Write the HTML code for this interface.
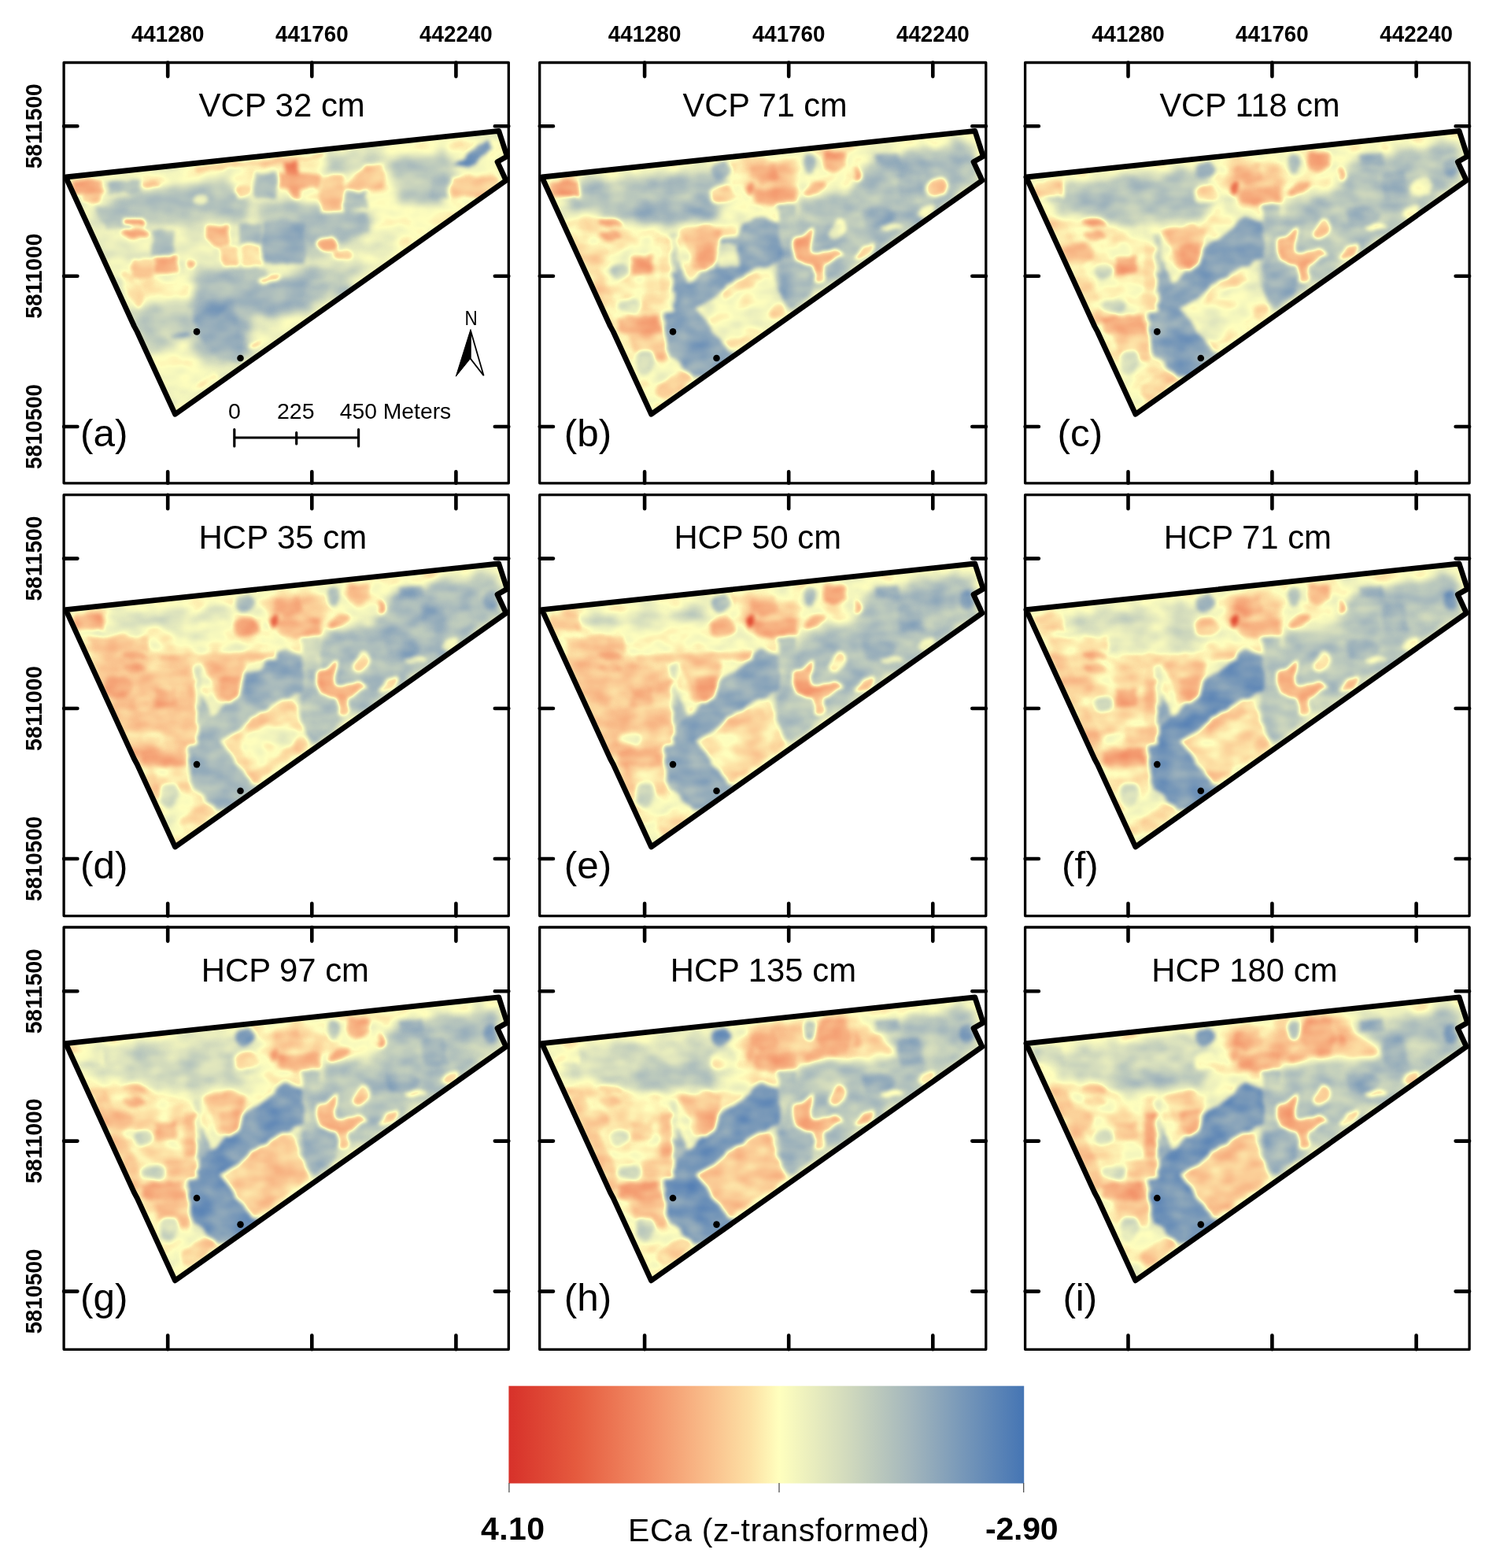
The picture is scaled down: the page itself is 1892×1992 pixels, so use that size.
<!DOCTYPE html>
<html lang="en"><head><meta charset="utf-8"><title>ECa maps</title>
<style>html,body{margin:0;padding:0;background:#fff}svg{display:block}text{font-family:"Liberation Sans",Arial,sans-serif;fill:#000}.b{font-weight:bold}</style>
</head><body>
<svg width="1892" height="1992" viewBox="0 0 1892 1992">
<defs>
<linearGradient id="cb" x1="0" x2="1" y1="0" y2="0"><stop offset="0" stop-color="#d7312a"/><stop offset="0.13" stop-color="#e55a3e"/><stop offset="0.27" stop-color="#f28e66"/><stop offset="0.4" stop-color="#fac38f"/><stop offset="0.47" stop-color="#fde1a5"/><stop offset="0.525" stop-color="#ffffbe"/><stop offset="0.65" stop-color="#d4dcbd"/><stop offset="0.78" stop-color="#a3b6bc"/><stop offset="0.9" stop-color="#6f92b8"/><stop offset="1" stop-color="#4575b4"/></linearGradient>
<clipPath id="fc"><path d="M83.6,225.0 L633.8,166.3 L644.3,198.6 L632.0,205.6 L643.0,229.2 L222.5,526.2 L174.3,421.5 L170.5,414.5Z"/></clipPath>
<filter id="f0" filterUnits="userSpaceOnUse" x="60" y="140" width="610" height="410" color-interpolation-filters="sRGB"><feTurbulence type="fractalNoise" baseFrequency="0.03" numOctaves="2" seed="3" result="n"/><feDisplacementMap in="SourceGraphic" in2="n" scale="24" xChannelSelector="R" yChannelSelector="G"/><feGaussianBlur stdDeviation="5.5"/></filter><filter id="f1" filterUnits="userSpaceOnUse" x="60" y="140" width="610" height="410" color-interpolation-filters="sRGB"><feTurbulence type="fractalNoise" baseFrequency="0.055" numOctaves="2" seed="7" result="n"/><feDisplacementMap in="SourceGraphic" in2="n" scale="9" xChannelSelector="R" yChannelSelector="G"/><feGaussianBlur stdDeviation="2.4"/></filter><filter id="cm0" filterUnits="userSpaceOnUse" x="70" y="150" width="590" height="390" color-interpolation-filters="sRGB"><feTurbulence type="fractalNoise" baseFrequency="0.03 0.045" numOctaves="2" seed="11"/><feColorMatrix type="matrix" values="1 0 0 0 0  1 0 0 0 0  1 0 0 0 0  0 0 0 0 1" result="n"/><feComposite in="SourceGraphic" in2="n" operator="arithmetic" k1="0" k2="1" k3="0.17" k4="-0.085"/><feComponentTransfer><feFuncR type="table" tableValues="0.843 0.854 0.864 0.875 0.885 0.896 0.905 0.914 0.924 0.933 0.942 0.950 0.956 0.962 0.968 0.974 0.980 0.985 0.989 0.993 0.996 1.000 0.966 0.933 0.899 0.865 0.831 0.794 0.757 0.721 0.684 0.647 0.605 0.563 0.520 0.478 0.435 0.394 0.353 0.312 0.271"/><feFuncG type="table" tableValues="0.192 0.223 0.254 0.285 0.316 0.347 0.382 0.418 0.455 0.491 0.528 0.565 0.605 0.645 0.685 0.725 0.765 0.807 0.849 0.893 0.947 1.000 0.973 0.945 0.918 0.890 0.863 0.834 0.805 0.777 0.748 0.719 0.690 0.661 0.631 0.602 0.573 0.544 0.516 0.487 0.459"/><feFuncB type="table" tableValues="0.165 0.180 0.195 0.210 0.225 0.240 0.266 0.294 0.322 0.350 0.378 0.406 0.437 0.468 0.499 0.530 0.561 0.592 0.622 0.656 0.701 0.745 0.744 0.744 0.743 0.742 0.741 0.740 0.740 0.739 0.738 0.737 0.735 0.731 0.728 0.725 0.722 0.718 0.714 0.710 0.706"/></feComponentTransfer></filter><filter id="cm1" filterUnits="userSpaceOnUse" x="70" y="150" width="590" height="390" color-interpolation-filters="sRGB"><feTurbulence type="fractalNoise" baseFrequency="0.03 0.045" numOctaves="2" seed="16"/><feColorMatrix type="matrix" values="1 0 0 0 0  1 0 0 0 0  1 0 0 0 0  0 0 0 0 1" result="n"/><feComposite in="SourceGraphic" in2="n" operator="arithmetic" k1="0" k2="1" k3="0.22" k4="-0.110"/><feComponentTransfer><feFuncR type="table" tableValues="0.843 0.854 0.864 0.875 0.885 0.896 0.905 0.914 0.924 0.933 0.942 0.950 0.956 0.962 0.968 0.974 0.980 0.985 0.989 0.993 0.996 1.000 0.966 0.933 0.899 0.865 0.831 0.794 0.757 0.721 0.684 0.647 0.605 0.563 0.520 0.478 0.435 0.394 0.353 0.312 0.271"/><feFuncG type="table" tableValues="0.192 0.223 0.254 0.285 0.316 0.347 0.382 0.418 0.455 0.491 0.528 0.565 0.605 0.645 0.685 0.725 0.765 0.807 0.849 0.893 0.947 1.000 0.973 0.945 0.918 0.890 0.863 0.834 0.805 0.777 0.748 0.719 0.690 0.661 0.631 0.602 0.573 0.544 0.516 0.487 0.459"/><feFuncB type="table" tableValues="0.165 0.180 0.195 0.210 0.225 0.240 0.266 0.294 0.322 0.350 0.378 0.406 0.437 0.468 0.499 0.530 0.561 0.592 0.622 0.656 0.701 0.745 0.744 0.744 0.743 0.742 0.741 0.740 0.740 0.739 0.738 0.737 0.735 0.731 0.728 0.725 0.722 0.718 0.714 0.710 0.706"/></feComponentTransfer></filter><filter id="cm2" filterUnits="userSpaceOnUse" x="70" y="150" width="590" height="390" color-interpolation-filters="sRGB"><feTurbulence type="fractalNoise" baseFrequency="0.03 0.045" numOctaves="2" seed="21"/><feColorMatrix type="matrix" values="1 0 0 0 0  1 0 0 0 0  1 0 0 0 0  0 0 0 0 1" result="n"/><feComposite in="SourceGraphic" in2="n" operator="arithmetic" k1="0" k2="1" k3="0.22" k4="-0.110"/><feComponentTransfer><feFuncR type="table" tableValues="0.843 0.854 0.864 0.875 0.885 0.896 0.905 0.914 0.924 0.933 0.942 0.950 0.956 0.962 0.968 0.974 0.980 0.985 0.989 0.993 0.996 1.000 0.966 0.933 0.899 0.865 0.831 0.794 0.757 0.721 0.684 0.647 0.605 0.563 0.520 0.478 0.435 0.394 0.353 0.312 0.271"/><feFuncG type="table" tableValues="0.192 0.223 0.254 0.285 0.316 0.347 0.382 0.418 0.455 0.491 0.528 0.565 0.605 0.645 0.685 0.725 0.765 0.807 0.849 0.893 0.947 1.000 0.973 0.945 0.918 0.890 0.863 0.834 0.805 0.777 0.748 0.719 0.690 0.661 0.631 0.602 0.573 0.544 0.516 0.487 0.459"/><feFuncB type="table" tableValues="0.165 0.180 0.195 0.210 0.225 0.240 0.266 0.294 0.322 0.350 0.378 0.406 0.437 0.468 0.499 0.530 0.561 0.592 0.622 0.656 0.701 0.745 0.744 0.744 0.743 0.742 0.741 0.740 0.740 0.739 0.738 0.737 0.735 0.731 0.728 0.725 0.722 0.718 0.714 0.710 0.706"/></feComponentTransfer></filter><filter id="cm3" filterUnits="userSpaceOnUse" x="70" y="150" width="590" height="390" color-interpolation-filters="sRGB"><feTurbulence type="fractalNoise" baseFrequency="0.03 0.045" numOctaves="2" seed="26"/><feColorMatrix type="matrix" values="1 0 0 0 0  1 0 0 0 0  1 0 0 0 0  0 0 0 0 1" result="n"/><feComposite in="SourceGraphic" in2="n" operator="arithmetic" k1="0" k2="1" k3="0.22" k4="-0.110"/><feComponentTransfer><feFuncR type="table" tableValues="0.843 0.854 0.864 0.875 0.885 0.896 0.905 0.914 0.924 0.933 0.942 0.950 0.956 0.962 0.968 0.974 0.980 0.985 0.989 0.993 0.996 1.000 0.966 0.933 0.899 0.865 0.831 0.794 0.757 0.721 0.684 0.647 0.605 0.563 0.520 0.478 0.435 0.394 0.353 0.312 0.271"/><feFuncG type="table" tableValues="0.192 0.223 0.254 0.285 0.316 0.347 0.382 0.418 0.455 0.491 0.528 0.565 0.605 0.645 0.685 0.725 0.765 0.807 0.849 0.893 0.947 1.000 0.973 0.945 0.918 0.890 0.863 0.834 0.805 0.777 0.748 0.719 0.690 0.661 0.631 0.602 0.573 0.544 0.516 0.487 0.459"/><feFuncB type="table" tableValues="0.165 0.180 0.195 0.210 0.225 0.240 0.266 0.294 0.322 0.350 0.378 0.406 0.437 0.468 0.499 0.530 0.561 0.592 0.622 0.656 0.701 0.745 0.744 0.744 0.743 0.742 0.741 0.740 0.740 0.739 0.738 0.737 0.735 0.731 0.728 0.725 0.722 0.718 0.714 0.710 0.706"/></feComponentTransfer></filter><filter id="cm4" filterUnits="userSpaceOnUse" x="70" y="150" width="590" height="390" color-interpolation-filters="sRGB"><feTurbulence type="fractalNoise" baseFrequency="0.03 0.045" numOctaves="2" seed="31"/><feColorMatrix type="matrix" values="1 0 0 0 0  1 0 0 0 0  1 0 0 0 0  0 0 0 0 1" result="n"/><feComposite in="SourceGraphic" in2="n" operator="arithmetic" k1="0" k2="1" k3="0.22" k4="-0.110"/><feComponentTransfer><feFuncR type="table" tableValues="0.843 0.854 0.864 0.875 0.885 0.896 0.905 0.914 0.924 0.933 0.942 0.950 0.956 0.962 0.968 0.974 0.980 0.985 0.989 0.993 0.996 1.000 0.966 0.933 0.899 0.865 0.831 0.794 0.757 0.721 0.684 0.647 0.605 0.563 0.520 0.478 0.435 0.394 0.353 0.312 0.271"/><feFuncG type="table" tableValues="0.192 0.223 0.254 0.285 0.316 0.347 0.382 0.418 0.455 0.491 0.528 0.565 0.605 0.645 0.685 0.725 0.765 0.807 0.849 0.893 0.947 1.000 0.973 0.945 0.918 0.890 0.863 0.834 0.805 0.777 0.748 0.719 0.690 0.661 0.631 0.602 0.573 0.544 0.516 0.487 0.459"/><feFuncB type="table" tableValues="0.165 0.180 0.195 0.210 0.225 0.240 0.266 0.294 0.322 0.350 0.378 0.406 0.437 0.468 0.499 0.530 0.561 0.592 0.622 0.656 0.701 0.745 0.744 0.744 0.743 0.742 0.741 0.740 0.740 0.739 0.738 0.737 0.735 0.731 0.728 0.725 0.722 0.718 0.714 0.710 0.706"/></feComponentTransfer></filter><filter id="cm5" filterUnits="userSpaceOnUse" x="70" y="150" width="590" height="390" color-interpolation-filters="sRGB"><feTurbulence type="fractalNoise" baseFrequency="0.03 0.045" numOctaves="2" seed="36"/><feColorMatrix type="matrix" values="1 0 0 0 0  1 0 0 0 0  1 0 0 0 0  0 0 0 0 1" result="n"/><feComposite in="SourceGraphic" in2="n" operator="arithmetic" k1="0" k2="1" k3="0.22" k4="-0.110"/><feComponentTransfer><feFuncR type="table" tableValues="0.843 0.854 0.864 0.875 0.885 0.896 0.905 0.914 0.924 0.933 0.942 0.950 0.956 0.962 0.968 0.974 0.980 0.985 0.989 0.993 0.996 1.000 0.966 0.933 0.899 0.865 0.831 0.794 0.757 0.721 0.684 0.647 0.605 0.563 0.520 0.478 0.435 0.394 0.353 0.312 0.271"/><feFuncG type="table" tableValues="0.192 0.223 0.254 0.285 0.316 0.347 0.382 0.418 0.455 0.491 0.528 0.565 0.605 0.645 0.685 0.725 0.765 0.807 0.849 0.893 0.947 1.000 0.973 0.945 0.918 0.890 0.863 0.834 0.805 0.777 0.748 0.719 0.690 0.661 0.631 0.602 0.573 0.544 0.516 0.487 0.459"/><feFuncB type="table" tableValues="0.165 0.180 0.195 0.210 0.225 0.240 0.266 0.294 0.322 0.350 0.378 0.406 0.437 0.468 0.499 0.530 0.561 0.592 0.622 0.656 0.701 0.745 0.744 0.744 0.743 0.742 0.741 0.740 0.740 0.739 0.738 0.737 0.735 0.731 0.728 0.725 0.722 0.718 0.714 0.710 0.706"/></feComponentTransfer></filter><filter id="cm6" filterUnits="userSpaceOnUse" x="70" y="150" width="590" height="390" color-interpolation-filters="sRGB"><feTurbulence type="fractalNoise" baseFrequency="0.03 0.045" numOctaves="2" seed="41"/><feColorMatrix type="matrix" values="1 0 0 0 0  1 0 0 0 0  1 0 0 0 0  0 0 0 0 1" result="n"/><feComposite in="SourceGraphic" in2="n" operator="arithmetic" k1="0" k2="1" k3="0.22" k4="-0.110"/><feComponentTransfer><feFuncR type="table" tableValues="0.843 0.854 0.864 0.875 0.885 0.896 0.905 0.914 0.924 0.933 0.942 0.950 0.956 0.962 0.968 0.974 0.980 0.985 0.989 0.993 0.996 1.000 0.966 0.933 0.899 0.865 0.831 0.794 0.757 0.721 0.684 0.647 0.605 0.563 0.520 0.478 0.435 0.394 0.353 0.312 0.271"/><feFuncG type="table" tableValues="0.192 0.223 0.254 0.285 0.316 0.347 0.382 0.418 0.455 0.491 0.528 0.565 0.605 0.645 0.685 0.725 0.765 0.807 0.849 0.893 0.947 1.000 0.973 0.945 0.918 0.890 0.863 0.834 0.805 0.777 0.748 0.719 0.690 0.661 0.631 0.602 0.573 0.544 0.516 0.487 0.459"/><feFuncB type="table" tableValues="0.165 0.180 0.195 0.210 0.225 0.240 0.266 0.294 0.322 0.350 0.378 0.406 0.437 0.468 0.499 0.530 0.561 0.592 0.622 0.656 0.701 0.745 0.744 0.744 0.743 0.742 0.741 0.740 0.740 0.739 0.738 0.737 0.735 0.731 0.728 0.725 0.722 0.718 0.714 0.710 0.706"/></feComponentTransfer></filter><filter id="cm7" filterUnits="userSpaceOnUse" x="70" y="150" width="590" height="390" color-interpolation-filters="sRGB"><feTurbulence type="fractalNoise" baseFrequency="0.03 0.045" numOctaves="2" seed="46"/><feColorMatrix type="matrix" values="1 0 0 0 0  1 0 0 0 0  1 0 0 0 0  0 0 0 0 1" result="n"/><feComposite in="SourceGraphic" in2="n" operator="arithmetic" k1="0" k2="1" k3="0.22" k4="-0.110"/><feComponentTransfer><feFuncR type="table" tableValues="0.843 0.854 0.864 0.875 0.885 0.896 0.905 0.914 0.924 0.933 0.942 0.950 0.956 0.962 0.968 0.974 0.980 0.985 0.989 0.993 0.996 1.000 0.966 0.933 0.899 0.865 0.831 0.794 0.757 0.721 0.684 0.647 0.605 0.563 0.520 0.478 0.435 0.394 0.353 0.312 0.271"/><feFuncG type="table" tableValues="0.192 0.223 0.254 0.285 0.316 0.347 0.382 0.418 0.455 0.491 0.528 0.565 0.605 0.645 0.685 0.725 0.765 0.807 0.849 0.893 0.947 1.000 0.973 0.945 0.918 0.890 0.863 0.834 0.805 0.777 0.748 0.719 0.690 0.661 0.631 0.602 0.573 0.544 0.516 0.487 0.459"/><feFuncB type="table" tableValues="0.165 0.180 0.195 0.210 0.225 0.240 0.266 0.294 0.322 0.350 0.378 0.406 0.437 0.468 0.499 0.530 0.561 0.592 0.622 0.656 0.701 0.745 0.744 0.744 0.743 0.742 0.741 0.740 0.740 0.739 0.738 0.737 0.735 0.731 0.728 0.725 0.722 0.718 0.714 0.710 0.706"/></feComponentTransfer></filter><filter id="cm8" filterUnits="userSpaceOnUse" x="70" y="150" width="590" height="390" color-interpolation-filters="sRGB"><feTurbulence type="fractalNoise" baseFrequency="0.03 0.045" numOctaves="2" seed="51"/><feColorMatrix type="matrix" values="1 0 0 0 0  1 0 0 0 0  1 0 0 0 0  0 0 0 0 1" result="n"/><feComposite in="SourceGraphic" in2="n" operator="arithmetic" k1="0" k2="1" k3="0.22" k4="-0.110"/><feComponentTransfer><feFuncR type="table" tableValues="0.843 0.854 0.864 0.875 0.885 0.896 0.905 0.914 0.924 0.933 0.942 0.950 0.956 0.962 0.968 0.974 0.980 0.985 0.989 0.993 0.996 1.000 0.966 0.933 0.899 0.865 0.831 0.794 0.757 0.721 0.684 0.647 0.605 0.563 0.520 0.478 0.435 0.394 0.353 0.312 0.271"/><feFuncG type="table" tableValues="0.192 0.223 0.254 0.285 0.316 0.347 0.382 0.418 0.455 0.491 0.528 0.565 0.605 0.645 0.685 0.725 0.765 0.807 0.849 0.893 0.947 1.000 0.973 0.945 0.918 0.890 0.863 0.834 0.805 0.777 0.748 0.719 0.690 0.661 0.631 0.602 0.573 0.544 0.516 0.487 0.459"/><feFuncB type="table" tableValues="0.165 0.180 0.195 0.210 0.225 0.240 0.266 0.294 0.322 0.350 0.378 0.406 0.437 0.468 0.499 0.530 0.561 0.592 0.622 0.656 0.701 0.745 0.744 0.744 0.743 0.742 0.741 0.740 0.740 0.739 0.738 0.737 0.735 0.731 0.728 0.725 0.722 0.718 0.714 0.710 0.706"/></feComponentTransfer></filter>
</defs>
<rect width="1892" height="1992" fill="#fff"/>
<g transform="translate(0.0,0.0)">
<g clip-path="url(#fc)"><g filter="url(#cm0)"><rect x="60" y="140" width="610" height="410" fill="#959595"/><g filter="url(#f0)"><polygon points="87,226 633,169 639,232 534,305 443,287 353,257 172,260" fill="#888888"/><polygon points="167,244 292,229 319,260 317,280 172,284 120,281 123,263" fill="#bbbbbb"/><polygon points="331,260 401,254 467,269 467,296 392,329 334,332" fill="#bdbdbd"/><polygon points="413,196 482,193 485,208 458,220 416,220" fill="#adadad"/><polygon points="494,202 570,193 576,226 564,257 503,254" fill="#b5b5b5"/><polygon points="244,347 310,341 353,353 413,338 479,341 458,371 398,398 322,401 310,462 262,462 244,419 238,389" fill="#c4c4c4"/><polygon points="156,389 238,377 268,462 223,516 196,462" fill="#b0b0b0"/><polygon points="181,450 238,432 274,480 223,522" fill="#888888"/><ellipse cx="503" cy="329" rx="66" ry="18" fill="#888888" transform="rotate(-30 503 329)"/><ellipse cx="398" cy="401" rx="36" ry="12" fill="#888888" transform="rotate(-25 398 401)"/><ellipse cx="202" cy="368" rx="42" ry="21" fill="#838383"/><ellipse cx="419" cy="365" rx="36" ry="15" fill="#b2b2b2" transform="rotate(-30 419 365)"/></g><g filter="url(#f1)"><rect x="137" y="229" width="42" height="18" fill="#bababa"/><polygon points="120,262 166,262 166,291 135,291" fill="#b8b8b8"/><rect x="193" y="292" width="29" height="32" fill="#bfbfbf"/><rect x="303" y="284" width="29" height="26" fill="#bfbfbf"/><rect x="334" y="281" width="53" height="53" fill="#cccccc"/><rect x="324" y="219" width="27" height="33" fill="#bdbdbd"/><rect x="437" y="241" width="30" height="24" fill="#bdbdbd"/><rect x="410" y="272" width="57" height="24" fill="#bdbdbd"/><rect x="547" y="220" width="21" height="30" fill="#bdbdbd"/><rect x="310" y="341" width="27" height="18" fill="#bdbdbd"/><polygon points="576,210 621,177 627,187 594,213" fill="#e6e6e6"/><polygon points="244,392 268,383 292,377 310,432 304,462 268,450 253,426" fill="#cccccc"/><ellipse cx="268" cy="398" rx="24" ry="8" fill="#d9d9d9" transform="rotate(-25 268 398)"/><ellipse cx="229" cy="425" rx="12" ry="3" fill="#dbdbdb"/><ellipse cx="401" cy="371" rx="18" ry="9" fill="#bdbdbd" transform="rotate(-30 401 371)"/><rect x="92" y="229" width="39" height="18" fill="#595959"/><rect x="104" y="247" width="23" height="10" fill="#6b6b6b"/><rect x="158" y="279" width="24" height="8" fill="#454545"/><ellipse cx="173" cy="296" rx="17" ry="6" fill="#595959"/><rect x="196" y="326" width="29" height="22" fill="#595959"/><rect x="167" y="328" width="28" height="24" fill="#6b6b6b"/><polygon points="260,288 290,286 292,311 274,315 262,305" fill="#595959"/><polygon points="278,314 304,314 304,338 283,336" fill="#6b6b6b"/><ellipse cx="244" cy="336" rx="6" ry="5" fill="#595959"/><rect x="307" y="311" width="26" height="26" fill="#787878"/><rect x="362" y="202" width="17" height="27" fill="#454545"/><rect x="369" y="235" width="12" height="18" fill="#595959"/><rect x="353" y="222" width="53" height="17" fill="#595959"/><rect x="408" y="222" width="29" height="48" fill="#6b6b6b"/><polygon points="437,238 464,211 488,208 488,238 458,244" fill="#6b6b6b"/><rect x="573" y="225" width="60" height="25" fill="#6b6b6b"/><ellipse cx="416" cy="311" rx="14" ry="11" fill="#595959"/><ellipse cx="437" cy="323" rx="12" ry="7" fill="#6b6b6b"/><ellipse cx="342" cy="355" rx="14" ry="5" fill="#6b6b6b" transform="rotate(-15 342 355)"/><ellipse cx="310" cy="243" rx="12" ry="8" fill="#6b6b6b"/><ellipse cx="193" cy="234" rx="13" ry="4" fill="#6b6b6b"/><polygon points="250,212 413,195 413,200 250,218" fill="#6b6b6b"/><ellipse cx="168" cy="368" rx="9" ry="26" fill="#787878" transform="rotate(-25 168 368)"/><ellipse cx="262" cy="483" rx="15" ry="5" fill="#787878" transform="rotate(-35 262 483)"/><ellipse cx="325" cy="438" rx="8" ry="3" fill="#6b6b6b" transform="rotate(-20 325 438)"/><ellipse cx="255" cy="254" rx="9" ry="7" fill="#888888"/></g></g></g>
<path d="M83.6,225.0 L633.8,166.3 L644.3,198.6 L632.0,205.6 L643.0,229.2 L222.5,526.2 L174.3,421.5 L170.5,414.5Z" fill="none" stroke="#000" stroke-width="6.8" stroke-linejoin="round"/>
<circle cx="250" cy="421.4" r="4.3"/><circle cx="305.5" cy="455" r="4.3"/>
</g>
<rect x="81.1" y="79.5" width="565.2" height="534.3" fill="none" stroke="#000" stroke-width="3.3" stroke-linejoin="round"/>
<path d="M213.2,79.5V97.1M213.2,613.8V599.2M396.3,79.5V97.1M396.3,613.8V599.2M579.4,79.5V97.1M579.4,613.8V599.2M81.1,160.3H98.4M646.3,160.3H628.8M81.1,350.7H98.4M646.3,350.7H628.8M81.1,542.0H98.4M646.3,542.0H628.8" stroke="#000" stroke-width="4.6" stroke-linecap="round" fill="none"/>
<text x="252.5" y="148.1" font-size="42.3" textLength="211.3" lengthAdjust="spacingAndGlyphs">VCP 32 cm</text>
<text x="102.1" y="566.5" font-size="47.5" textLength="60.4" lengthAdjust="spacingAndGlyphs">(a)</text>
<g transform="translate(605.0,0.0)">
<g clip-path="url(#fc)"><g filter="url(#cm1)"><rect x="60" y="140" width="610" height="410" fill="#888888"/><g filter="url(#f0)"><polygon points="99,235 292,217 310,217 322,260 310,281 250,287 172,281 126,275" fill="#b8b8b8"/><polygon points="196,254 298,247 310,278 250,284 202,278" fill="#c9c9c9"/><polygon points="108,266 172,281 244,293 250,371 238,410 238,462 268,480 223,522 172,416" fill="#828282"/><polygon points="410,269 413,251 473,247 509,196 576,190 627,175 639,205 639,232 534,305 482,341 428,371 398,392 383,371 383,329 389,296" fill="#bdbdbd"/><polygon points="343,208 383,205 410,217 413,251 383,261 353,257 343,232" fill="#6b6b6b"/><polygon points="196,450 238,438 262,471 223,522" fill="#888888"/></g><g filter="url(#f1)"><polygon points="281,394 305,373 331,352 353,339 371,335 378,353 383,371 396,394 353,426 322,445 305,429 292,410" fill="#8c8c8c"/><polygon points="310,371 331,355 356,349 365,356 337,368 316,382" fill="#787878"/><polygon points="306,430 322,433 347,426 331,441 319,442" fill="#787878"/><ellipse cx="383" cy="395" rx="12" ry="8" fill="#787878" transform="rotate(-30 383 395)"/><polygon points="384,336 413,332 431,341 427,371 401,392 386,371" fill="#c9c9c9"/><polygon points="247,349 246,360 249,369 257,374 271,363 265,353 259,341 254,329 250,329" fill="#c9c9c9"/><rect x="246" y="296" width="9" height="51" fill="#a8a8a8"/><polygon points="239,400 244,389 252,384 255,373 270,361 287,346 304,340 306,304 331,301 336,285 365,275 384,282 388,302 388,331 354,342 332,355 307,375 281,393 294,410 307,427 323,445 333,454 292,482 273,476 258,461 247,452 241,441 239,424 241,410" fill="#d1d1d1"/><rect x="307" y="311" width="26" height="27" fill="#999999"/><ellipse cx="312" cy="217" rx="12" ry="11" fill="#c9c9c9"/><ellipse cx="425" cy="207" rx="9" ry="14" fill="#b8b8b8"/><ellipse cx="623" cy="214" rx="9" ry="12" fill="#b8b8b8"/><polygon points="488,264 513,260 534,269 528,287 497,290" fill="#c9c9c9"/><polygon points="507,197 536,195 540,208 509,211" fill="#c9c9c9"/><polygon points="534,220 564,217 570,251 540,254" fill="#c9c9c9"/><polygon points="383,260 407,260 410,299 386,302" fill="#b8b8b8"/><polygon points="257,293 292,285 313,293 310,311 305,333 292,344 277,338 268,317" fill="#6b6b6b"/><polygon points="278,311 305,308 305,333 292,341 280,332" fill="#595959"/><polygon points="404,302 429,290 425,308 428,320 455,318 467,324 443,336 442,356 431,359 429,339 407,332 401,317" fill="#595959"/><polygon points="442,195 467,193 472,211 455,219 443,214" fill="#595959"/><polygon points="350,211 380,208 383,229 362,235 347,229" fill="#595959"/><polygon points="353,241 407,235 410,254 377,260 356,257" fill="#595959"/><ellipse cx="431" cy="239" rx="15" ry="5" fill="#595959" transform="rotate(-30 431 239)"/><ellipse cx="348" cy="240" rx="4" ry="7" fill="#454545"/><ellipse cx="484" cy="222" rx="5" ry="10" fill="#595959"/><ellipse cx="313" cy="247" rx="17" ry="12" fill="#787878"/><ellipse cx="170" cy="284" rx="14" ry="5" fill="#595959"/><ellipse cx="172" cy="299" rx="14" ry="6" fill="#595959"/><rect x="197" y="326" width="26" height="23" fill="#595959"/><polygon points="178,403 232,400 238,422 202,430 181,421" fill="#595959"/><polygon points="193,422 238,422 241,459 211,462 199,444" fill="#6b6b6b"/><polygon points="209,376 244,371 251,395 214,395" fill="#787878"/><polygon points="233,312 249,312 250,368 235,368" fill="#787878"/><polygon points="114,281 132,281 181,398 172,416" fill="#787878"/><ellipse cx="150" cy="323" rx="18" ry="15" fill="#787878"/><ellipse cx="494" cy="320" rx="15" ry="6" fill="#6b6b6b" transform="rotate(-38 494 320)"/><ellipse cx="437" cy="349" rx="5" ry="10" fill="#6b6b6b"/><ellipse cx="460" cy="291" rx="9" ry="14" fill="#888888" transform="rotate(25 460 291)"/><ellipse cx="528" cy="288" rx="15" ry="4" fill="#888888"/><ellipse cx="573" cy="269" rx="12" ry="8" fill="#888888" transform="rotate(-35 573 269)"/><ellipse cx="250" cy="489" rx="26" ry="11" fill="#6b6b6b" transform="rotate(-35 250 489)"/><ellipse cx="586" cy="238" rx="14" ry="12" fill="#6b6b6b"/><rect x="93" y="230" width="39" height="21" fill="#595959"/><ellipse cx="182" cy="344" rx="12" ry="9" fill="#a6a6a6"/><ellipse cx="196" cy="389" rx="15" ry="9" fill="#a6a6a6"/><ellipse cx="214" cy="462" rx="12" ry="15" fill="#a6a6a6"/></g></g></g>
<path d="M83.6,225.0 L633.8,166.3 L644.3,198.6 L632.0,205.6 L643.0,229.2 L222.5,526.2 L174.3,421.5 L170.5,414.5Z" fill="none" stroke="#000" stroke-width="6.8" stroke-linejoin="round"/>
<circle cx="250" cy="421.4" r="4.3"/><circle cx="305.5" cy="455" r="4.3"/>
</g>
<rect x="685.7" y="79.5" width="567.1" height="534.3" fill="none" stroke="#000" stroke-width="3.3" stroke-linejoin="round"/>
<path d="M819.1,79.5V97.1M819.1,613.8V599.2M1002.2,79.5V97.1M1002.2,613.8V599.2M1185.3,79.5V97.1M1185.3,613.8V599.2M685.7,160.3H703.0M1252.8,160.3H1235.3M685.7,350.7H703.0M1252.8,350.7H1235.3M685.7,542.0H703.0M1252.8,542.0H1235.3" stroke="#000" stroke-width="4.6" stroke-linecap="round" fill="none"/>
<text x="867.5" y="148.1" font-size="42.3" textLength="209.1" lengthAdjust="spacingAndGlyphs">VCP 71 cm</text>
<text x="716.8" y="566.5" font-size="47.5" textLength="60.4" lengthAdjust="spacingAndGlyphs">(b)</text>
<g transform="translate(1220.3,0.0)">
<g clip-path="url(#fc)"><g filter="url(#cm2)"><rect x="60" y="140" width="610" height="410" fill="#888888"/><g filter="url(#f0)"><polygon points="99,235 292,217 310,217 322,260 310,281 250,287 172,281 126,275" fill="#b8b8b8"/><polygon points="196,254 298,247 310,278 250,284 202,278" fill="#b8b8b8"/><polygon points="108,266 172,281 244,293 250,371 238,410 238,462 268,480 223,522 172,416" fill="#828282"/><polygon points="410,269 413,251 473,247 509,196 576,190 627,175 639,205 639,232 534,305 482,341 428,371 398,392 383,371 383,329 389,296" fill="#b8b8b8"/><polygon points="343,208 383,205 410,217 413,251 383,261 353,257 343,232" fill="#6b6b6b"/><polygon points="196,450 238,438 262,471 223,522" fill="#888888"/></g><g filter="url(#f1)"><polygon points="281,394 305,373 331,352 353,339 371,335 378,353 383,371 396,394 353,426 322,445 305,429 292,410" fill="#8c8c8c"/><polygon points="310,371 331,355 356,349 365,356 337,368 316,382" fill="#787878"/><polygon points="306,430 322,433 347,426 331,441 319,442" fill="#787878"/><ellipse cx="383" cy="395" rx="12" ry="8" fill="#787878" transform="rotate(-30 383 395)"/><polygon points="384,336 413,332 431,341 427,371 401,392 386,371" fill="#c9c9c9"/><polygon points="247,349 246,360 249,369 257,374 271,363 265,353 259,341 254,329 250,329" fill="#c9c9c9"/><rect x="246" y="296" width="9" height="51" fill="#a8a8a8"/><polygon points="239,400 244,389 252,384 255,373 270,361 287,343 303,330 309,318 322,307 343,293 362,275 383,280 388,302 385,327 354,342 332,355 307,375 281,393 294,410 307,427 323,445 333,454 292,482 273,476 258,461 247,452 241,441 239,424 241,410" fill="#d6d6d6"/><ellipse cx="312" cy="217" rx="12" ry="11" fill="#c9c9c9"/><ellipse cx="425" cy="207" rx="9" ry="14" fill="#b8b8b8"/><ellipse cx="623" cy="214" rx="9" ry="12" fill="#c9c9c9"/><polygon points="488,264 513,260 534,269 528,287 497,290" fill="#c9c9c9"/><polygon points="507,197 536,195 540,208 509,211" fill="#c9c9c9"/><polygon points="534,220 564,217 570,251 540,254" fill="#c9c9c9"/><polygon points="383,260 407,260 410,299 386,302" fill="#b8b8b8"/><polygon points="257,293 292,285 313,293 310,311 305,333 292,344 277,338 268,317" fill="#6b6b6b"/><polygon points="278,311 305,308 305,333 292,341 280,332" fill="#595959"/><polygon points="404,302 429,290 425,308 428,320 455,318 467,324 443,336 442,356 431,359 429,339 407,332 401,317" fill="#595959"/><polygon points="442,195 467,193 472,211 455,219 443,214" fill="#595959"/><polygon points="350,211 380,208 383,229 362,235 347,229" fill="#595959"/><polygon points="353,241 407,235 410,254 377,260 356,257" fill="#595959"/><ellipse cx="431" cy="239" rx="15" ry="5" fill="#595959" transform="rotate(-30 431 239)"/><ellipse cx="348" cy="240" rx="4" ry="7" fill="#212121"/><ellipse cx="484" cy="222" rx="5" ry="10" fill="#595959"/><ellipse cx="313" cy="247" rx="17" ry="12" fill="#787878"/><ellipse cx="170" cy="284" rx="14" ry="5" fill="#595959"/><ellipse cx="172" cy="299" rx="14" ry="6" fill="#595959"/><rect x="197" y="326" width="26" height="23" fill="#595959"/><polygon points="178,403 232,400 238,422 202,430 181,421" fill="#595959"/><polygon points="193,422 238,422 241,459 211,462 199,444" fill="#6b6b6b"/><polygon points="209,376 244,371 251,395 214,395" fill="#787878"/><polygon points="233,312 249,312 250,368 235,368" fill="#787878"/><polygon points="114,281 132,281 181,398 172,416" fill="#787878"/><ellipse cx="150" cy="323" rx="18" ry="15" fill="#6b6b6b"/><ellipse cx="494" cy="320" rx="15" ry="6" fill="#6b6b6b" transform="rotate(-38 494 320)"/><ellipse cx="437" cy="349" rx="5" ry="10" fill="#6b6b6b"/><ellipse cx="460" cy="291" rx="9" ry="14" fill="#6b6b6b" transform="rotate(25 460 291)"/><ellipse cx="528" cy="288" rx="15" ry="4" fill="#787878"/><ellipse cx="573" cy="269" rx="12" ry="8" fill="#888888" transform="rotate(-35 573 269)"/><ellipse cx="250" cy="489" rx="26" ry="11" fill="#6b6b6b" transform="rotate(-35 250 489)"/><ellipse cx="586" cy="238" rx="14" ry="12" fill="#888888"/><rect x="93" y="230" width="39" height="21" fill="#6b6b6b"/><ellipse cx="182" cy="344" rx="12" ry="9" fill="#a6a6a6"/><ellipse cx="196" cy="389" rx="15" ry="9" fill="#a6a6a6"/><ellipse cx="214" cy="462" rx="12" ry="15" fill="#a6a6a6"/></g></g></g>
<path d="M83.6,225.0 L633.8,166.3 L644.3,198.6 L632.0,205.6 L643.0,229.2 L222.5,526.2 L174.3,421.5 L170.5,414.5Z" fill="none" stroke="#000" stroke-width="6.8" stroke-linejoin="round"/>
<circle cx="250" cy="421.4" r="4.3"/><circle cx="305.5" cy="455" r="4.3"/>
</g>
<rect x="1302.6" y="79.5" width="564.5" height="534.3" fill="none" stroke="#000" stroke-width="3.3" stroke-linejoin="round"/>
<path d="M1433.5,79.5V97.1M1433.5,613.8V599.2M1616.4,79.5V97.1M1616.4,613.8V599.2M1799.6,79.5V97.1M1799.6,613.8V599.2M1302.6,160.3H1319.9M1867.1,160.3H1849.6M1302.6,350.7H1319.9M1867.1,350.7H1849.6M1302.6,542.0H1319.9M1867.1,542.0H1849.6" stroke="#000" stroke-width="4.6" stroke-linecap="round" fill="none"/>
<text x="1473.4" y="148.1" font-size="42.3" textLength="229.2" lengthAdjust="spacingAndGlyphs">VCP 118 cm</text>
<text x="1343.5" y="566.5" font-size="47.5" textLength="57.6" lengthAdjust="spacingAndGlyphs">(c)</text>
<g transform="translate(0.0,549.7)">
<g clip-path="url(#fc)"><g filter="url(#cm3)"><rect x="60" y="140" width="610" height="410" fill="#888888"/><g filter="url(#f0)"><polygon points="99,235 292,217 310,217 322,260 310,281 250,287 172,281 126,275" fill="#888888"/><polygon points="141,235 292,222 292,235 141,251" fill="#a6a6a6"/><polygon points="108,266 172,281 244,293 250,371 238,410 238,462 268,480 223,522 172,416" fill="#6b6b6b"/><polygon points="410,269 413,251 473,247 509,196 576,190 627,175 639,205 639,232 534,305 482,341 428,371 398,392 383,371 383,329 389,296" fill="#c1c1c1"/><polygon points="343,208 383,205 410,217 413,251 383,261 353,257 343,232" fill="#6b6b6b"/><polygon points="196,450 238,438 262,471 223,522" fill="#888888"/><polygon points="250,287 322,260 353,263 362,278 337,290 316,302 310,293 262,290" fill="#888888"/></g><g filter="url(#f1)"><polygon points="281,394 305,373 331,352 353,339 371,335 378,353 383,371 396,394 353,426 322,445 305,429 292,410" fill="#787878"/><polygon points="304,389 340,368 368,371 380,389 347,416 319,432" fill="#888888"/><polygon points="310,371 331,355 356,349 365,356 337,368 316,382" fill="#6b6b6b"/><polygon points="306,430 322,433 347,426 331,441 319,442" fill="#6b6b6b"/><ellipse cx="383" cy="395" rx="12" ry="8" fill="#6b6b6b" transform="rotate(-30 383 395)"/><polygon points="384,336 413,332 431,341 427,371 401,392 386,371" fill="#b8b8b8"/><polygon points="247,349 246,360 249,369 257,374 271,363 265,353 259,341 254,329 250,329" fill="#b8b8b8"/><rect x="246" y="296" width="9" height="51" fill="#9e9e9e"/><polygon points="239,400 244,389 252,384 255,373 270,361 287,343 303,330 309,318 322,307 343,293 362,275 383,280 388,302 385,327 354,342 332,355 307,375 281,393 294,410 307,427 323,445 333,454 292,482 273,476 258,461 247,452 241,441 239,424 241,410" fill="#c2c2c2"/><polygon points="310,305 331,302 337,287 365,276 383,284 386,302 386,329 353,339 310,341" fill="#cccccc"/><ellipse cx="312" cy="217" rx="12" ry="11" fill="#b8b8b8"/><ellipse cx="425" cy="207" rx="9" ry="14" fill="#b8b8b8"/><ellipse cx="623" cy="214" rx="9" ry="12" fill="#dbdbdb"/><polygon points="488,264 513,260 534,269 528,287 497,290" fill="#c9c9c9"/><polygon points="507,197 536,195 540,208 509,211" fill="#c9c9c9"/><polygon points="534,220 564,217 570,251 540,254" fill="#c9c9c9"/><polygon points="383,260 407,260 410,299 386,302" fill="#a6a6a6"/><polygon points="257,293 292,285 313,293 310,311 305,333 292,344 277,338 268,317" fill="#6b6b6b"/><polygon points="278,311 305,308 305,333 292,341 280,332" fill="#595959"/><polygon points="404,302 429,290 425,308 428,320 455,318 467,324 443,336 442,356 431,359 429,339 407,332 401,317" fill="#595959"/><polygon points="442,195 467,193 472,211 455,219 443,214" fill="#6b6b6b"/><polygon points="350,211 380,208 383,229 362,235 347,229" fill="#595959"/><polygon points="353,241 407,235 410,254 377,260 356,257" fill="#595959"/><ellipse cx="431" cy="239" rx="15" ry="5" fill="#595959" transform="rotate(-30 431 239)"/><ellipse cx="348" cy="240" rx="4" ry="7" fill="#212121"/><ellipse cx="484" cy="222" rx="5" ry="10" fill="#595959"/><ellipse cx="313" cy="247" rx="17" ry="12" fill="#595959"/><ellipse cx="170" cy="284" rx="14" ry="5" fill="#595959"/><ellipse cx="172" cy="299" rx="14" ry="6" fill="#595959"/><rect x="197" y="326" width="26" height="23" fill="#595959"/><polygon points="178,403 232,400 238,422 202,430 181,421" fill="#595959"/><polygon points="193,422 238,422 241,459 211,462 199,444" fill="#787878"/><polygon points="209,376 244,371 251,395 214,395" fill="#6b6b6b"/><polygon points="233,312 249,312 250,368 235,368" fill="#6b6b6b"/><polygon points="114,281 132,281 181,398 172,416" fill="#6b6b6b"/><ellipse cx="150" cy="323" rx="18" ry="15" fill="#595959"/><ellipse cx="494" cy="320" rx="15" ry="6" fill="#6b6b6b" transform="rotate(-38 494 320)"/><ellipse cx="437" cy="349" rx="5" ry="10" fill="#6b6b6b"/><ellipse cx="460" cy="291" rx="9" ry="14" fill="#787878" transform="rotate(25 460 291)"/><ellipse cx="528" cy="288" rx="15" ry="4" fill="#888888"/><ellipse cx="573" cy="269" rx="12" ry="8" fill="#888888" transform="rotate(-35 573 269)"/><ellipse cx="250" cy="489" rx="26" ry="11" fill="#787878" transform="rotate(-35 250 489)"/><ellipse cx="586" cy="238" rx="14" ry="12" fill="#b8b8b8"/><rect x="93" y="230" width="39" height="21" fill="#595959"/><ellipse cx="182" cy="344" rx="12" ry="9" fill="#787878"/><ellipse cx="196" cy="389" rx="15" ry="9" fill="#787878"/><ellipse cx="214" cy="462" rx="12" ry="15" fill="#a6a6a6"/><polygon points="202,282 353,278 353,288 202,293" fill="#6b6b6b"/><polygon points="111,260 190,257 190,278 120,281" fill="#6b6b6b"/></g></g></g>
<path d="M83.6,225.0 L633.8,166.3 L644.3,198.6 L632.0,205.6 L643.0,229.2 L222.5,526.2 L174.3,421.5 L170.5,414.5Z" fill="none" stroke="#000" stroke-width="6.8" stroke-linejoin="round"/>
<circle cx="250" cy="421.4" r="4.3"/><circle cx="305.5" cy="455" r="4.3"/>
</g>
<rect x="81.1" y="628.7" width="565.2" height="534.9" fill="none" stroke="#000" stroke-width="3.3" stroke-linejoin="round"/>
<path d="M213.2,628.7V646.3M213.2,1163.6V1147.8M396.3,628.7V646.3M396.3,1163.6V1147.8M579.4,628.7V646.3M579.4,1163.6V1147.8M81.1,709.6H98.4M646.3,709.6H628.8M81.1,900.0H98.4M646.3,900.0H628.8M81.1,1091.0H98.4M646.3,1091.0H628.8" stroke="#000" stroke-width="4.6" stroke-linecap="round" fill="none"/>
<text x="252.6" y="697.3" font-size="42.3" textLength="213.6" lengthAdjust="spacingAndGlyphs">HCP 35 cm</text>
<text x="102.1" y="1115.7" font-size="47.5" textLength="60.4" lengthAdjust="spacingAndGlyphs">(d)</text>
<g transform="translate(605.0,549.7)">
<g clip-path="url(#fc)"><g filter="url(#cm4)"><rect x="60" y="140" width="610" height="410" fill="#888888"/><g filter="url(#f0)"><polygon points="99,235 292,217 310,217 322,260 310,281 250,287 172,281 126,275" fill="#888888"/><polygon points="141,235 292,222 292,235 141,251" fill="#a6a6a6"/><polygon points="108,266 172,281 244,293 250,371 238,410 238,462 268,480 223,522 172,416" fill="#6b6b6b"/><polygon points="410,269 413,251 473,247 509,196 576,190 627,175 639,205 639,232 534,305 482,341 428,371 398,392 383,371 383,329 389,296" fill="#bdbdbd"/><polygon points="343,208 383,205 410,217 413,251 383,261 353,257 343,232" fill="#6b6b6b"/><polygon points="196,450 238,438 262,471 223,522" fill="#888888"/><polygon points="250,287 322,260 353,263 362,278 337,290 316,302 310,293 262,290" fill="#888888"/></g><g filter="url(#f1)"><polygon points="281,394 305,373 331,352 353,339 371,335 378,353 383,371 396,394 353,426 322,445 305,429 292,410" fill="#787878"/><polygon points="304,389 340,368 368,371 380,389 347,416 319,432" fill="#787878"/><polygon points="310,371 331,355 356,349 365,356 337,368 316,382" fill="#6b6b6b"/><polygon points="306,430 322,433 347,426 331,441 319,442" fill="#6b6b6b"/><ellipse cx="383" cy="395" rx="12" ry="8" fill="#6b6b6b" transform="rotate(-30 383 395)"/><polygon points="384,336 413,332 431,341 427,371 401,392 386,371" fill="#b8b8b8"/><polygon points="247,349 246,360 249,369 257,374 271,363 265,353 259,341 254,329 250,329" fill="#b8b8b8"/><rect x="246" y="296" width="9" height="51" fill="#9e9e9e"/><polygon points="239,400 244,389 252,384 255,373 270,361 287,343 303,330 309,318 322,307 343,293 362,275 383,280 388,302 385,327 354,342 332,355 307,375 281,393 294,410 307,427 323,445 333,454 292,482 273,476 258,461 247,452 241,441 239,424 241,410" fill="#d1d1d1"/><ellipse cx="312" cy="217" rx="12" ry="11" fill="#c9c9c9"/><ellipse cx="425" cy="207" rx="9" ry="14" fill="#b8b8b8"/><ellipse cx="623" cy="214" rx="9" ry="12" fill="#dbdbdb"/><polygon points="488,264 513,260 534,269 528,287 497,290" fill="#c9c9c9"/><polygon points="507,197 536,195 540,208 509,211" fill="#c9c9c9"/><polygon points="534,220 564,217 570,251 540,254" fill="#c9c9c9"/><polygon points="383,260 407,260 410,299 386,302" fill="#b8b8b8"/><polygon points="257,293 292,285 313,293 310,311 305,333 292,344 277,338 268,317" fill="#6b6b6b"/><polygon points="278,311 305,308 305,333 292,341 280,332" fill="#595959"/><polygon points="404,302 429,290 425,308 428,320 455,318 467,324 443,336 442,356 431,359 429,339 407,332 401,317" fill="#595959"/><polygon points="442,195 467,193 472,211 455,219 443,214" fill="#595959"/><polygon points="350,211 380,208 383,229 362,235 347,229" fill="#595959"/><polygon points="353,241 407,235 410,254 377,260 356,257" fill="#595959"/><ellipse cx="431" cy="239" rx="15" ry="5" fill="#595959" transform="rotate(-30 431 239)"/><ellipse cx="348" cy="240" rx="4" ry="7" fill="#212121"/><ellipse cx="484" cy="222" rx="5" ry="10" fill="#595959"/><ellipse cx="313" cy="247" rx="17" ry="12" fill="#595959"/><ellipse cx="170" cy="284" rx="14" ry="5" fill="#595959"/><ellipse cx="172" cy="299" rx="14" ry="6" fill="#595959"/><rect x="197" y="326" width="26" height="23" fill="#595959"/><polygon points="178,403 232,400 238,422 202,430 181,421" fill="#595959"/><polygon points="193,422 238,422 241,459 211,462 199,444" fill="#787878"/><polygon points="209,376 244,371 251,395 214,395" fill="#6b6b6b"/><polygon points="233,312 249,312 250,368 235,368" fill="#6b6b6b"/><polygon points="114,281 132,281 181,398 172,416" fill="#6b6b6b"/><ellipse cx="150" cy="323" rx="18" ry="15" fill="#6b6b6b"/><ellipse cx="494" cy="320" rx="15" ry="6" fill="#6b6b6b" transform="rotate(-38 494 320)"/><ellipse cx="437" cy="349" rx="5" ry="10" fill="#6b6b6b"/><ellipse cx="460" cy="291" rx="9" ry="14" fill="#787878" transform="rotate(25 460 291)"/><ellipse cx="528" cy="288" rx="15" ry="4" fill="#888888"/><ellipse cx="573" cy="269" rx="12" ry="8" fill="#888888" transform="rotate(-35 573 269)"/><ellipse cx="250" cy="489" rx="26" ry="11" fill="#787878" transform="rotate(-35 250 489)"/><ellipse cx="586" cy="238" rx="14" ry="12" fill="#b8b8b8"/><rect x="93" y="230" width="39" height="21" fill="#6b6b6b"/><ellipse cx="182" cy="344" rx="12" ry="9" fill="#787878"/><ellipse cx="196" cy="389" rx="15" ry="9" fill="#888888"/><ellipse cx="214" cy="462" rx="12" ry="15" fill="#a6a6a6"/><polygon points="202,282 353,278 353,288 202,293" fill="#6b6b6b"/><polygon points="111,260 190,257 190,278 120,281" fill="#6b6b6b"/></g></g></g>
<path d="M83.6,225.0 L633.8,166.3 L644.3,198.6 L632.0,205.6 L643.0,229.2 L222.5,526.2 L174.3,421.5 L170.5,414.5Z" fill="none" stroke="#000" stroke-width="6.8" stroke-linejoin="round"/>
<circle cx="250" cy="421.4" r="4.3"/><circle cx="305.5" cy="455" r="4.3"/>
</g>
<rect x="685.7" y="628.7" width="567.1" height="534.9" fill="none" stroke="#000" stroke-width="3.3" stroke-linejoin="round"/>
<path d="M819.1,628.7V646.3M819.1,1163.6V1147.8M1002.2,628.7V646.3M1002.2,1163.6V1147.8M1185.3,628.7V646.3M1185.3,1163.6V1147.8M685.7,709.6H703.0M1252.8,709.6H1235.3M685.7,900.0H703.0M1252.8,900.0H1235.3M685.7,1091.0H703.0M1252.8,1091.0H1235.3" stroke="#000" stroke-width="4.6" stroke-linecap="round" fill="none"/>
<text x="856.4" y="697.3" font-size="42.3" textLength="212.6" lengthAdjust="spacingAndGlyphs">HCP 50 cm</text>
<text x="716.8" y="1115.7" font-size="47.5" textLength="60.4" lengthAdjust="spacingAndGlyphs">(e)</text>
<g transform="translate(1220.3,549.7)">
<g clip-path="url(#fc)"><g filter="url(#cm5)"><rect x="60" y="140" width="610" height="410" fill="#888888"/><g filter="url(#f0)"><polygon points="99,235 292,217 310,217 322,260 310,281 250,287 172,281 126,275" fill="#999999"/><polygon points="141,235 292,222 292,235 141,251" fill="#a6a6a6"/><polygon points="108,266 172,281 244,293 250,371 238,410 238,462 268,480 223,522 172,416" fill="#787878"/><polygon points="410,269 413,251 473,247 509,196 576,190 627,175 639,205 639,232 534,305 482,341 428,371 398,392 383,371 383,329 389,296" fill="#b8b8b8"/><polygon points="343,208 383,205 410,217 413,251 383,261 353,257 343,232" fill="#6b6b6b"/><polygon points="196,450 238,438 262,471 223,522" fill="#888888"/></g><g filter="url(#f1)"><polygon points="281,394 305,373 331,352 353,339 371,335 378,353 383,371 396,394 353,426 322,445 305,429 292,410" fill="#787878"/><polygon points="304,389 340,368 368,371 380,389 347,416 319,432" fill="#787878"/><polygon points="310,371 331,355 356,349 365,356 337,368 316,382" fill="#6b6b6b"/><polygon points="306,430 322,433 347,426 331,441 319,442" fill="#6b6b6b"/><ellipse cx="383" cy="395" rx="12" ry="8" fill="#6b6b6b" transform="rotate(-30 383 395)"/><polygon points="384,336 413,332 431,341 427,371 401,392 386,371" fill="#b8b8b8"/><polygon points="247,349 246,360 249,369 257,374 271,363 265,353 259,341 254,329 250,329" fill="#c9c9c9"/><rect x="246" y="296" width="9" height="51" fill="#9e9e9e"/><polygon points="239,400 244,389 252,384 255,373 270,361 287,343 303,330 309,318 322,307 343,293 362,275 383,280 388,302 385,327 354,342 332,355 307,375 281,393 294,410 307,427 323,445 333,454 292,482 273,476 258,461 247,452 241,441 239,424 241,410" fill="#e0e0e0"/><ellipse cx="312" cy="217" rx="12" ry="11" fill="#c9c9c9"/><ellipse cx="425" cy="207" rx="9" ry="14" fill="#b8b8b8"/><ellipse cx="623" cy="214" rx="9" ry="12" fill="#dbdbdb"/><polygon points="488,264 513,260 534,269 528,287 497,290" fill="#c9c9c9"/><polygon points="507,197 536,195 540,208 509,211" fill="#c9c9c9"/><polygon points="534,220 564,217 570,251 540,254" fill="#c9c9c9"/><polygon points="383,260 407,260 410,299 386,302" fill="#b8b8b8"/><polygon points="257,293 292,285 313,293 310,311 305,333 292,344 277,338 268,317" fill="#6b6b6b"/><polygon points="278,311 305,308 305,333 292,341 280,332" fill="#595959"/><polygon points="404,302 429,290 425,308 428,320 455,318 467,324 443,336 442,356 431,359 429,339 407,332 401,317" fill="#595959"/><polygon points="442,195 467,193 472,211 455,219 443,214" fill="#595959"/><polygon points="350,211 380,208 383,229 362,235 347,229" fill="#595959"/><polygon points="353,241 407,235 410,254 377,260 356,257" fill="#595959"/><ellipse cx="431" cy="239" rx="15" ry="5" fill="#595959" transform="rotate(-30 431 239)"/><ellipse cx="348" cy="240" rx="4" ry="7" fill="#212121"/><ellipse cx="484" cy="222" rx="5" ry="10" fill="#595959"/><ellipse cx="313" cy="247" rx="17" ry="12" fill="#6b6b6b"/><ellipse cx="170" cy="284" rx="14" ry="5" fill="#595959"/><ellipse cx="172" cy="299" rx="14" ry="6" fill="#595959"/><rect x="197" y="326" width="26" height="23" fill="#595959"/><polygon points="178,403 232,400 238,422 202,430 181,421" fill="#595959"/><polygon points="193,422 238,422 241,459 211,462 199,444" fill="#787878"/><polygon points="209,376 244,371 251,395 214,395" fill="#6b6b6b"/><polygon points="233,312 249,312 250,368 235,368" fill="#6b6b6b"/><polygon points="114,281 132,281 181,398 172,416" fill="#6b6b6b"/><ellipse cx="150" cy="323" rx="18" ry="15" fill="#6b6b6b"/><ellipse cx="494" cy="320" rx="15" ry="6" fill="#6b6b6b" transform="rotate(-38 494 320)"/><ellipse cx="437" cy="349" rx="5" ry="10" fill="#6b6b6b"/><ellipse cx="460" cy="291" rx="9" ry="14" fill="#787878" transform="rotate(25 460 291)"/><ellipse cx="528" cy="288" rx="15" ry="4" fill="#888888"/><ellipse cx="573" cy="269" rx="12" ry="8" fill="#888888" transform="rotate(-35 573 269)"/><ellipse cx="250" cy="489" rx="26" ry="11" fill="#787878" transform="rotate(-35 250 489)"/><ellipse cx="586" cy="238" rx="14" ry="12" fill="#b8b8b8"/><rect x="93" y="230" width="39" height="21" fill="#787878"/><ellipse cx="182" cy="344" rx="12" ry="9" fill="#a6a6a6"/><ellipse cx="196" cy="389" rx="15" ry="9" fill="#888888"/><ellipse cx="214" cy="462" rx="12" ry="15" fill="#a6a6a6"/><polygon points="202,282 353,278 353,288 202,293" fill="#787878"/><polygon points="111,260 190,257 190,278 120,281" fill="#787878"/></g></g></g>
<path d="M83.6,225.0 L633.8,166.3 L644.3,198.6 L632.0,205.6 L643.0,229.2 L222.5,526.2 L174.3,421.5 L170.5,414.5Z" fill="none" stroke="#000" stroke-width="6.8" stroke-linejoin="round"/>
<circle cx="250" cy="421.4" r="4.3"/><circle cx="305.5" cy="455" r="4.3"/>
</g>
<rect x="1302.6" y="628.7" width="564.5" height="534.9" fill="none" stroke="#000" stroke-width="3.3" stroke-linejoin="round"/>
<path d="M1433.5,628.7V646.3M1433.5,1163.6V1147.8M1616.4,628.7V646.3M1616.4,1163.6V1147.8M1799.6,628.7V646.3M1799.6,1163.6V1147.8M1302.6,709.6H1319.9M1867.1,709.6H1849.6M1302.6,900.0H1319.9M1867.1,900.0H1849.6M1302.6,1091.0H1319.9M1867.1,1091.0H1849.6" stroke="#000" stroke-width="4.6" stroke-linecap="round" fill="none"/>
<text x="1478.7" y="697.3" font-size="42.3" textLength="213.3" lengthAdjust="spacingAndGlyphs">HCP 71 cm</text>
<text x="1349.0" y="1115.7" font-size="47.5" textLength="46.6" lengthAdjust="spacingAndGlyphs">(f)</text>
<g transform="translate(0.0,1100.6)">
<g clip-path="url(#fc)"><g filter="url(#cm6)"><rect x="60" y="140" width="610" height="410" fill="#888888"/><g filter="url(#f0)"><polygon points="99,235 292,217 310,217 322,260 310,281 250,287 172,281 126,275" fill="#a6a6a6"/><polygon points="196,254 298,247 310,278 250,284 202,278" fill="#a6a6a6"/><polygon points="108,266 172,281 244,293 250,371 238,410 238,462 268,480 223,522 172,416" fill="#7d7d7d"/><polygon points="410,269 413,251 473,247 509,196 576,190 627,175 639,205 639,232 534,305 482,341 428,371 398,392 383,371 383,329 389,296" fill="#b8b8b8"/><polygon points="343,208 383,205 410,217 413,251 383,261 353,257 343,232" fill="#787878"/><polygon points="196,450 238,438 262,471 223,522" fill="#888888"/></g><g filter="url(#f1)"><polygon points="281,394 305,373 331,352 353,339 371,335 378,353 383,371 396,394 353,426 322,445 305,429 292,410" fill="#6b6b6b"/><polygon points="384,336 413,332 431,341 427,371 401,392 386,371" fill="#c9c9c9"/><polygon points="247,349 246,360 249,369 257,374 271,363 265,353 259,341 254,329 250,329" fill="#c9c9c9"/><rect x="246" y="296" width="9" height="51" fill="#9e9e9e"/><polygon points="239,400 244,389 252,384 255,373 270,361 287,343 303,330 309,318 322,307 343,293 362,275 383,280 388,302 385,327 354,342 332,355 307,375 281,393 294,410 307,427 323,445 333,454 292,482 273,476 258,461 247,452 241,441 239,424 241,410" fill="#e0e0e0"/><ellipse cx="312" cy="217" rx="12" ry="11" fill="#dbdbdb"/><ellipse cx="425" cy="207" rx="9" ry="14" fill="#b8b8b8"/><ellipse cx="623" cy="214" rx="9" ry="12" fill="#dbdbdb"/><polygon points="488,264 513,260 534,269 528,287 497,290" fill="#c9c9c9"/><polygon points="507,197 536,195 540,208 509,211" fill="#c9c9c9"/><polygon points="534,220 564,217 570,251 540,254" fill="#c9c9c9"/><polygon points="383,260 407,260 410,299 386,302" fill="#b8b8b8"/><polygon points="257,293 292,285 313,293 310,311 305,333 292,344 277,338 268,317" fill="#6b6b6b"/><polygon points="278,311 305,308 305,333 292,341 280,332" fill="#595959"/><polygon points="404,302 429,290 425,308 428,320 455,318 467,324 443,336 442,356 431,359 429,339 407,332 401,317" fill="#595959"/><polygon points="442,195 467,193 472,211 455,219 443,214" fill="#595959"/><polygon points="350,211 380,208 383,229 362,235 347,229" fill="#6b6b6b"/><polygon points="353,241 407,235 410,254 377,260 356,257" fill="#595959"/><ellipse cx="431" cy="239" rx="15" ry="5" fill="#595959" transform="rotate(-30 431 239)"/><ellipse cx="348" cy="240" rx="4" ry="7" fill="#595959"/><ellipse cx="484" cy="222" rx="5" ry="10" fill="#595959"/><ellipse cx="313" cy="247" rx="17" ry="12" fill="#787878"/><ellipse cx="170" cy="284" rx="14" ry="5" fill="#6b6b6b"/><ellipse cx="172" cy="299" rx="14" ry="6" fill="#595959"/><rect x="197" y="326" width="26" height="23" fill="#595959"/><polygon points="178,403 232,400 238,422 202,430 181,421" fill="#595959"/><polygon points="193,422 238,422 241,459 211,462 199,444" fill="#6b6b6b"/><polygon points="209,376 244,371 251,395 214,395" fill="#6b6b6b"/><polygon points="233,312 249,312 250,368 235,368" fill="#6b6b6b"/><polygon points="114,281 132,281 181,398 172,416" fill="#6b6b6b"/><ellipse cx="150" cy="323" rx="18" ry="15" fill="#6b6b6b"/><ellipse cx="494" cy="320" rx="15" ry="6" fill="#6b6b6b" transform="rotate(-38 494 320)"/><ellipse cx="437" cy="349" rx="5" ry="10" fill="#6b6b6b"/><ellipse cx="460" cy="291" rx="9" ry="14" fill="#787878" transform="rotate(25 460 291)"/><ellipse cx="528" cy="288" rx="15" ry="4" fill="#787878"/><ellipse cx="573" cy="269" rx="12" ry="8" fill="#787878" transform="rotate(-35 573 269)"/><ellipse cx="250" cy="489" rx="26" ry="11" fill="#6b6b6b" transform="rotate(-35 250 489)"/><ellipse cx="586" cy="238" rx="14" ry="12" fill="#b8b8b8"/><rect x="93" y="230" width="39" height="21" fill="#888888"/><ellipse cx="182" cy="344" rx="12" ry="9" fill="#a6a6a6"/><ellipse cx="196" cy="389" rx="15" ry="9" fill="#a6a6a6"/><ellipse cx="214" cy="462" rx="12" ry="15" fill="#a6a6a6"/></g></g></g>
<path d="M83.6,225.0 L633.8,166.3 L644.3,198.6 L632.0,205.6 L643.0,229.2 L222.5,526.2 L174.3,421.5 L170.5,414.5Z" fill="none" stroke="#000" stroke-width="6.8" stroke-linejoin="round"/>
<circle cx="250" cy="421.4" r="4.3"/><circle cx="305.5" cy="455" r="4.3"/>
</g>
<rect x="81.1" y="1178.0" width="565.2" height="536.3" fill="none" stroke="#000" stroke-width="3.3" stroke-linejoin="round"/>
<path d="M213.2,1178.0V1195.6M213.2,1714.3V1696.6M396.3,1178.0V1195.6M396.3,1714.3V1696.6M579.4,1178.0V1195.6M579.4,1714.3V1696.6M81.1,1259.3H98.4M646.3,1259.3H628.8M81.1,1449.6H98.4M646.3,1449.6H628.8M81.1,1640.6H98.4M646.3,1640.6H628.8" stroke="#000" stroke-width="4.6" stroke-linecap="round" fill="none"/>
<text x="255.7" y="1246.6" font-size="42.3" textLength="213.3" lengthAdjust="spacingAndGlyphs">HCP 97 cm</text>
<text x="102.1" y="1665.0" font-size="47.5" textLength="60.4" lengthAdjust="spacingAndGlyphs">(g)</text>
<g transform="translate(605.0,1100.6)">
<g clip-path="url(#fc)"><g filter="url(#cm7)"><rect x="60" y="140" width="610" height="410" fill="#888888"/><g filter="url(#f0)"><polygon points="99,235 292,217 310,217 322,260 310,281 250,287 172,281 126,275" fill="#a6a6a6"/><polygon points="196,254 298,247 310,278 250,284 202,278" fill="#b8b8b8"/><polygon points="108,266 172,281 244,293 250,371 238,410 238,462 268,480 223,522 172,416" fill="#808080"/><polygon points="410,269 413,251 473,247 509,196 576,190 627,175 639,205 639,232 534,305 482,341 428,371 398,392 383,371 383,329 389,296" fill="#b8b8b8"/><polygon points="343,208 383,202 437,197 475,192 507,213 536,234 507,243 443,246 403,251 379,260 355,262 343,238" fill="#6b6b6b"/><polygon points="196,450 238,438 262,471 223,522" fill="#888888"/></g><g filter="url(#f1)"><polygon points="281,394 305,373 331,352 353,339 371,335 378,353 383,371 396,394 353,426 322,445 305,429 292,410" fill="#6b6b6b"/><polygon points="384,336 413,332 431,341 427,371 401,392 386,371" fill="#c9c9c9"/><polygon points="247,349 246,360 249,369 257,374 271,363 265,353 259,341 254,329 250,329" fill="#c9c9c9"/><rect x="246" y="296" width="9" height="51" fill="#9e9e9e"/><polygon points="239,400 244,389 252,384 255,373 270,361 287,343 303,330 309,318 322,307 343,293 362,275 383,280 388,302 385,327 354,342 332,355 307,375 281,393 294,410 307,427 323,445 333,454 292,482 273,476 258,461 247,452 241,441 239,424 241,410" fill="#e0e0e0"/><ellipse cx="312" cy="217" rx="12" ry="11" fill="#dbdbdb"/><ellipse cx="425" cy="207" rx="9" ry="14" fill="#b8b8b8"/><ellipse cx="623" cy="214" rx="9" ry="12" fill="#dbdbdb"/><polygon points="488,264 513,260 534,269 528,287 497,290" fill="#c9c9c9"/><polygon points="507,197 536,195 540,208 509,211" fill="#c9c9c9"/><polygon points="534,220 564,217 570,251 540,254" fill="#c9c9c9"/><polygon points="383,260 407,260 410,299 386,302" fill="#b8b8b8"/><polygon points="257,293 292,285 313,293 310,311 305,333 292,344 277,338 268,317" fill="#6b6b6b"/><polygon points="278,311 305,308 305,333 292,341 280,332" fill="#595959"/><polygon points="404,302 429,290 425,308 428,320 455,318 467,324 443,336 442,356 431,359 429,339 407,332 401,317" fill="#595959"/><polygon points="438,196 470,193 476,214 470,240 443,238 434,220" fill="#595959"/><polygon points="350,211 380,208 383,229 362,235 347,229" fill="#595959"/><polygon points="353,241 407,235 410,254 377,260 356,257" fill="#595959"/><ellipse cx="431" cy="239" rx="15" ry="5" fill="#595959" transform="rotate(-30 431 239)"/><ellipse cx="348" cy="240" rx="4" ry="7" fill="#595959"/><ellipse cx="484" cy="222" rx="5" ry="10" fill="#595959"/><ellipse cx="313" cy="247" rx="17" ry="12" fill="#888888"/><ellipse cx="170" cy="284" rx="14" ry="5" fill="#6b6b6b"/><ellipse cx="172" cy="299" rx="14" ry="6" fill="#6b6b6b"/><rect x="197" y="326" width="26" height="23" fill="#6b6b6b"/><polygon points="178,403 232,400 238,422 202,430 181,421" fill="#595959"/><polygon points="193,422 238,422 241,459 211,462 199,444" fill="#6b6b6b"/><polygon points="209,376 244,371 251,395 214,395" fill="#6b6b6b"/><polygon points="233,312 249,312 250,368 235,368" fill="#6b6b6b"/><polygon points="114,281 132,281 181,398 172,416" fill="#6b6b6b"/><ellipse cx="150" cy="323" rx="18" ry="15" fill="#6b6b6b"/><ellipse cx="494" cy="320" rx="15" ry="6" fill="#6b6b6b" transform="rotate(-38 494 320)"/><ellipse cx="437" cy="349" rx="5" ry="10" fill="#6b6b6b"/><ellipse cx="460" cy="291" rx="9" ry="14" fill="#6b6b6b" transform="rotate(25 460 291)"/><ellipse cx="528" cy="288" rx="15" ry="4" fill="#787878"/><ellipse cx="573" cy="269" rx="12" ry="8" fill="#787878" transform="rotate(-35 573 269)"/><ellipse cx="250" cy="489" rx="26" ry="11" fill="#6b6b6b" transform="rotate(-35 250 489)"/><ellipse cx="586" cy="238" rx="14" ry="12" fill="#b8b8b8"/><rect x="93" y="230" width="39" height="21" fill="#888888"/><ellipse cx="182" cy="344" rx="12" ry="9" fill="#a6a6a6"/><ellipse cx="196" cy="389" rx="15" ry="9" fill="#a6a6a6"/><ellipse cx="214" cy="462" rx="12" ry="15" fill="#a6a6a6"/></g></g></g>
<path d="M83.6,225.0 L633.8,166.3 L644.3,198.6 L632.0,205.6 L643.0,229.2 L222.5,526.2 L174.3,421.5 L170.5,414.5Z" fill="none" stroke="#000" stroke-width="6.8" stroke-linejoin="round"/>
<circle cx="250" cy="421.4" r="4.3"/><circle cx="305.5" cy="455" r="4.3"/>
</g>
<rect x="685.7" y="1178.0" width="567.1" height="536.3" fill="none" stroke="#000" stroke-width="3.3" stroke-linejoin="round"/>
<path d="M819.1,1178.0V1195.6M819.1,1714.3V1696.6M1002.2,1178.0V1195.6M1002.2,1714.3V1696.6M1185.3,1178.0V1195.6M1185.3,1714.3V1696.6M685.7,1259.3H703.0M1252.8,1259.3H1235.3M685.7,1449.6H703.0M1252.8,1449.6H1235.3M685.7,1640.6H703.0M1252.8,1640.6H1235.3" stroke="#000" stroke-width="4.6" stroke-linecap="round" fill="none"/>
<text x="851.7" y="1246.6" font-size="42.3" textLength="236.3" lengthAdjust="spacingAndGlyphs">HCP 135 cm</text>
<text x="716.8" y="1665.0" font-size="47.5" textLength="60.4" lengthAdjust="spacingAndGlyphs">(h)</text>
<g transform="translate(1220.3,1100.6)">
<g clip-path="url(#fc)"><g filter="url(#cm8)"><rect x="60" y="140" width="610" height="410" fill="#888888"/><g filter="url(#f0)"><polygon points="99,235 292,217 310,217 322,260 310,281 250,287 172,281 126,275" fill="#a6a6a6"/><polygon points="196,254 298,247 310,278 250,284 202,278" fill="#b8b8b8"/><polygon points="108,266 172,281 244,293 250,371 238,410 238,462 268,480 223,522 172,416" fill="#808080"/><polygon points="410,269 413,251 473,247 509,196 576,190 627,175 639,205 639,232 534,305 482,341 428,371 398,392 383,371 383,329 389,296" fill="#b8b8b8"/><polygon points="343,208 383,202 437,197 475,192 507,213 536,234 507,243 443,246 403,251 379,260 355,262 343,238" fill="#6b6b6b"/><polygon points="196,450 238,438 262,471 223,522" fill="#888888"/></g><g filter="url(#f1)"><polygon points="281,394 305,373 331,352 353,339 371,335 378,353 383,371 396,394 353,426 322,445 305,429 292,410" fill="#6b6b6b"/><polygon points="384,336 413,332 431,341 427,371 401,392 386,371" fill="#c9c9c9"/><polygon points="247,349 246,360 249,369 257,374 271,363 265,353 259,341 254,329 250,329" fill="#c9c9c9"/><rect x="246" y="296" width="9" height="51" fill="#9e9e9e"/><polygon points="239,400 244,389 252,384 255,373 270,361 287,343 303,330 309,318 322,307 343,293 362,275 383,280 388,302 385,327 354,342 332,355 307,375 281,393 294,410 307,427 323,445 333,454 292,482 273,476 258,461 247,452 241,441 239,424 241,410" fill="#e0e0e0"/><ellipse cx="312" cy="217" rx="12" ry="11" fill="#dbdbdb"/><ellipse cx="425" cy="207" rx="9" ry="14" fill="#b8b8b8"/><ellipse cx="623" cy="214" rx="9" ry="12" fill="#dbdbdb"/><polygon points="488,264 513,260 534,269 528,287 497,290" fill="#c9c9c9"/><polygon points="507,197 536,195 540,208 509,211" fill="#c9c9c9"/><polygon points="534,220 564,217 570,251 540,254" fill="#c9c9c9"/><polygon points="383,260 407,260 410,299 386,302" fill="#b8b8b8"/><polygon points="257,293 292,285 313,293 310,311 305,333 292,344 277,338 268,317" fill="#787878"/><polygon points="278,311 305,308 305,333 292,341 280,332" fill="#595959"/><polygon points="404,302 429,290 425,308 428,320 455,318 467,324 443,336 442,356 431,359 429,339 407,332 401,317" fill="#595959"/><polygon points="438,196 470,193 476,214 470,240 443,238 434,220" fill="#595959"/><polygon points="350,211 380,208 383,229 362,235 347,229" fill="#595959"/><polygon points="353,241 407,235 410,254 377,260 356,257" fill="#595959"/><ellipse cx="431" cy="239" rx="15" ry="5" fill="#595959" transform="rotate(-30 431 239)"/><ellipse cx="348" cy="240" rx="4" ry="7" fill="#595959"/><ellipse cx="484" cy="222" rx="5" ry="10" fill="#595959"/><ellipse cx="313" cy="247" rx="17" ry="12" fill="#888888"/><ellipse cx="170" cy="284" rx="14" ry="5" fill="#6b6b6b"/><ellipse cx="172" cy="299" rx="14" ry="6" fill="#6b6b6b"/><rect x="197" y="326" width="26" height="23" fill="#6b6b6b"/><polygon points="178,403 232,400 238,422 202,430 181,421" fill="#595959"/><polygon points="193,422 238,422 241,459 211,462 199,444" fill="#6b6b6b"/><polygon points="209,376 244,371 251,395 214,395" fill="#6b6b6b"/><polygon points="233,312 249,312 250,368 235,368" fill="#595959"/><polygon points="114,281 132,281 181,398 172,416" fill="#6b6b6b"/><ellipse cx="150" cy="323" rx="18" ry="15" fill="#6b6b6b"/><ellipse cx="494" cy="320" rx="15" ry="6" fill="#6b6b6b" transform="rotate(-38 494 320)"/><ellipse cx="437" cy="349" rx="5" ry="10" fill="#6b6b6b"/><ellipse cx="460" cy="291" rx="9" ry="14" fill="#6b6b6b" transform="rotate(25 460 291)"/><ellipse cx="528" cy="288" rx="15" ry="4" fill="#6b6b6b"/><ellipse cx="573" cy="269" rx="12" ry="8" fill="#787878" transform="rotate(-35 573 269)"/><ellipse cx="250" cy="489" rx="26" ry="11" fill="#6b6b6b" transform="rotate(-35 250 489)"/><ellipse cx="586" cy="238" rx="14" ry="12" fill="#b8b8b8"/><rect x="93" y="230" width="39" height="21" fill="#a6a6a6"/><ellipse cx="182" cy="344" rx="12" ry="9" fill="#a6a6a6"/><ellipse cx="196" cy="389" rx="15" ry="9" fill="#a6a6a6"/><ellipse cx="214" cy="462" rx="12" ry="15" fill="#a6a6a6"/></g></g></g>
<path d="M83.6,225.0 L633.8,166.3 L644.3,198.6 L632.0,205.6 L643.0,229.2 L222.5,526.2 L174.3,421.5 L170.5,414.5Z" fill="none" stroke="#000" stroke-width="6.8" stroke-linejoin="round"/>
<circle cx="250" cy="421.4" r="4.3"/><circle cx="305.5" cy="455" r="4.3"/>
</g>
<rect x="1302.6" y="1178.0" width="564.5" height="536.3" fill="none" stroke="#000" stroke-width="3.3" stroke-linejoin="round"/>
<path d="M1433.5,1178.0V1195.6M1433.5,1714.3V1696.6M1616.4,1178.0V1195.6M1616.4,1714.3V1696.6M1799.6,1178.0V1195.6M1799.6,1714.3V1696.6M1302.6,1259.3H1319.9M1867.1,1259.3H1849.6M1302.6,1449.6H1319.9M1867.1,1449.6H1849.6M1302.6,1640.6H1319.9M1867.1,1640.6H1849.6" stroke="#000" stroke-width="4.6" stroke-linecap="round" fill="none"/>
<text x="1463.2" y="1246.6" font-size="42.3" textLength="236.3" lengthAdjust="spacingAndGlyphs">HCP 180 cm</text>
<text x="1350.4" y="1665.0" font-size="47.5" textLength="43.9" lengthAdjust="spacingAndGlyphs">(i)</text>
<text class="b" x="166.9" y="52.9" font-size="29" textLength="92.6" lengthAdjust="spacingAndGlyphs">441280</text>
<text class="b" x="350.0" y="52.9" font-size="29" textLength="92.6" lengthAdjust="spacingAndGlyphs">441760</text>
<text class="b" x="533.1" y="52.9" font-size="29" textLength="92.6" lengthAdjust="spacingAndGlyphs">442240</text>
<text class="b" x="772.8" y="52.9" font-size="29" textLength="92.6" lengthAdjust="spacingAndGlyphs">441280</text>
<text class="b" x="955.9" y="52.9" font-size="29" textLength="92.6" lengthAdjust="spacingAndGlyphs">441760</text>
<text class="b" x="1139.0" y="52.9" font-size="29" textLength="92.6" lengthAdjust="spacingAndGlyphs">442240</text>
<text class="b" x="1387.2" y="52.9" font-size="29" textLength="92.6" lengthAdjust="spacingAndGlyphs">441280</text>
<text class="b" x="1570.1" y="52.9" font-size="29" textLength="92.6" lengthAdjust="spacingAndGlyphs">441760</text>
<text class="b" x="1753.3" y="52.9" font-size="29" textLength="92.6" lengthAdjust="spacingAndGlyphs">442240</text>
<text class="b" transform="translate(53.0,214.3) rotate(-90)" font-size="29" textLength="108" lengthAdjust="spacingAndGlyphs">5811500</text>
<text class="b" transform="translate(53.0,404.7) rotate(-90)" font-size="29" textLength="108" lengthAdjust="spacingAndGlyphs">5811000</text>
<text class="b" transform="translate(53.0,596.0) rotate(-90)" font-size="29" textLength="108" lengthAdjust="spacingAndGlyphs">5810500</text>
<text class="b" transform="translate(53.0,763.6) rotate(-90)" font-size="29" textLength="108" lengthAdjust="spacingAndGlyphs">5811500</text>
<text class="b" transform="translate(53.0,954.0) rotate(-90)" font-size="29" textLength="108" lengthAdjust="spacingAndGlyphs">5811000</text>
<text class="b" transform="translate(53.0,1145.0) rotate(-90)" font-size="29" textLength="108" lengthAdjust="spacingAndGlyphs">5810500</text>
<text class="b" transform="translate(53.0,1313.3) rotate(-90)" font-size="29" textLength="108" lengthAdjust="spacingAndGlyphs">5811500</text>
<text class="b" transform="translate(53.0,1503.6) rotate(-90)" font-size="29" textLength="108" lengthAdjust="spacingAndGlyphs">5811000</text>
<text class="b" transform="translate(53.0,1694.6) rotate(-90)" font-size="29" textLength="108" lengthAdjust="spacingAndGlyphs">5810500</text>
<path d="M297.8,545.5V567M297.8,556H455.6M455.6,545.5V567M376.7,549.5V564" stroke="#000" stroke-width="3.2" stroke-linecap="round" fill="none"/>
<text x="297.9" y="531.8" font-size="28.5" text-anchor="middle">0</text>
<text x="375.8" y="531.8" font-size="28.5" text-anchor="middle">225</text>
<text x="431.8" y="531.8" font-size="28.5" textLength="141.4" lengthAdjust="spacingAndGlyphs">450 Meters</text>
<text x="590.6" y="412.8" font-size="26.3" textLength="16.2" lengthAdjust="spacingAndGlyphs">N</text>
<path d="M598,418.5L579.3,478.2L597.6,455.6Z" fill="#000" stroke="#000" stroke-width="1"/>
<path d="M598,420L614.6,477.2L597.8,455.6Z" fill="#fff" stroke="#000" stroke-width="1.8"/>
<rect x="646.4" y="1760.7" width="654.8" height="123.8" fill="url(#cb)"/>
<path d="M646.9,1884V1896M990,1884V1896M1300.7,1884V1896" stroke="#444" stroke-width="1.2" fill="none"/>
<text class="b" x="611" y="1955.8" font-size="41" textLength="81">4.10</text>
<text x="798" y="1958.3" font-size="41" textLength="383">ECa (z-transformed)</text>
<text class="b" x="1252" y="1955.8" font-size="41" textLength="92.5">-2.90</text>
</svg></body></html>
